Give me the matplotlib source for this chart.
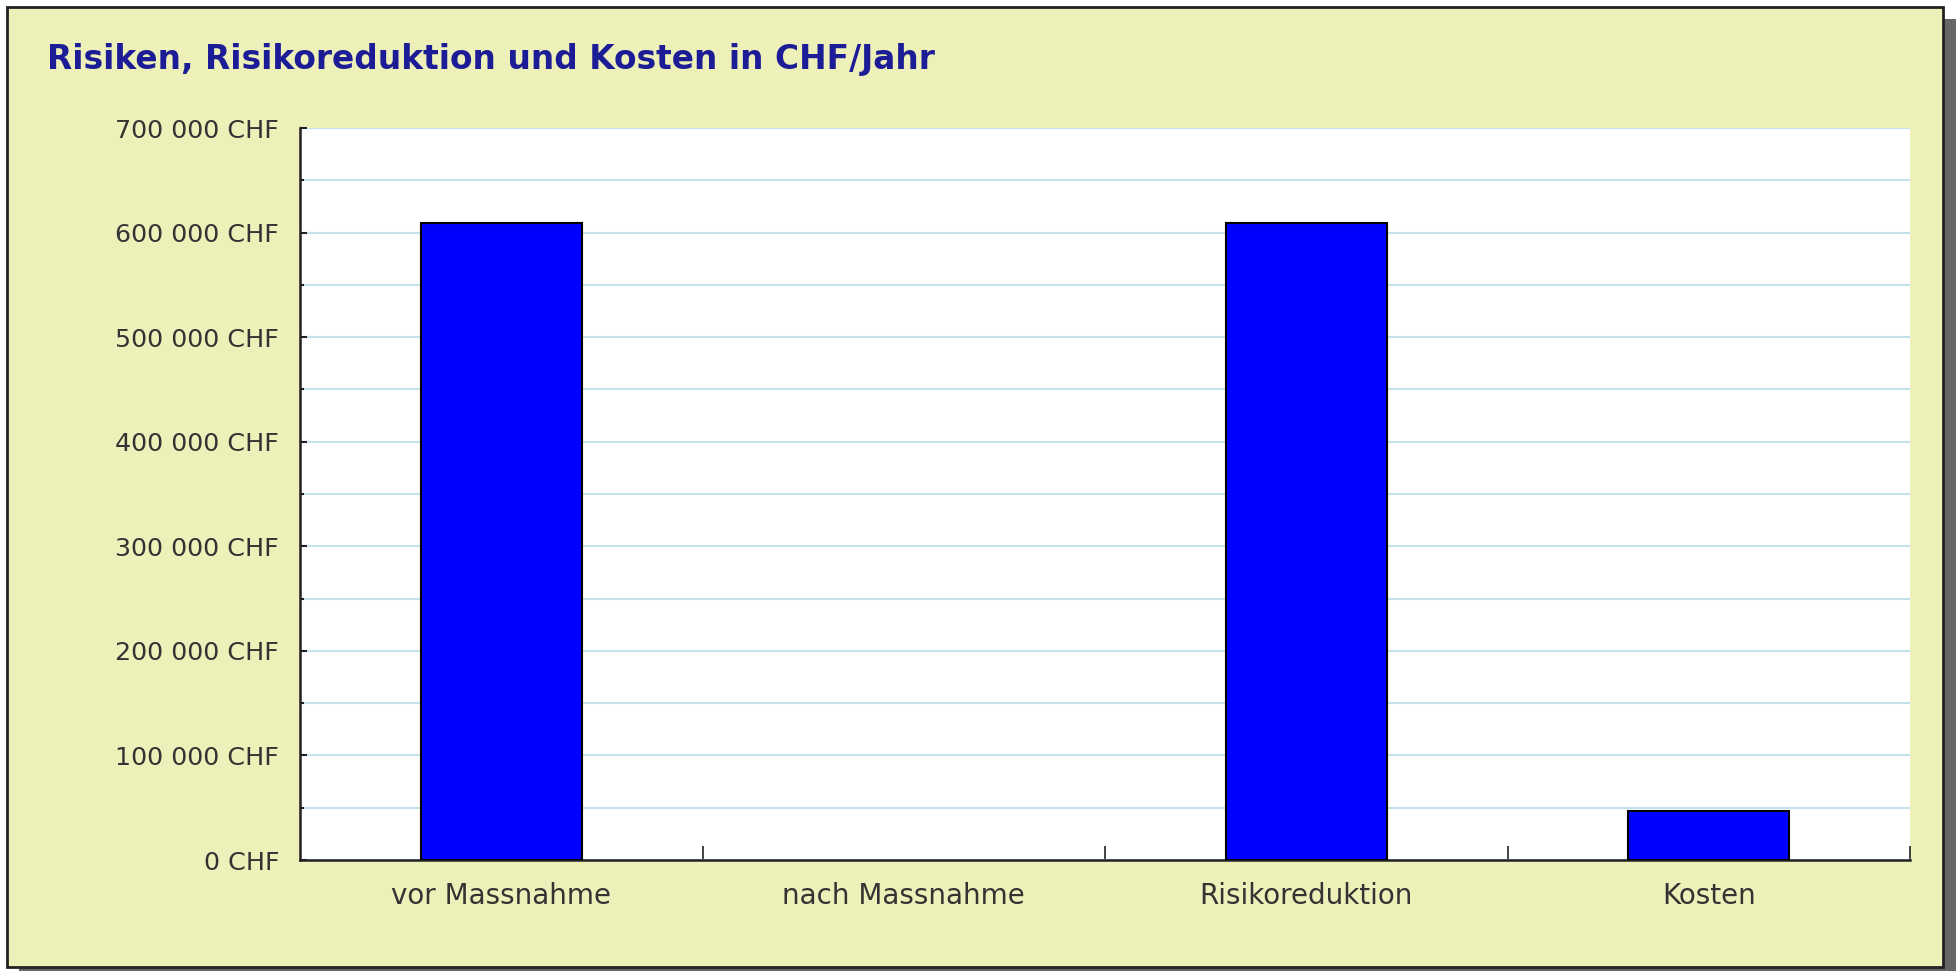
import matplotlib.pyplot as plt
import numpy as np
from matplotlib.patches import Rectangle
from matplotlib.ticker import MultipleLocator, FuncFormatter

categories = ["vor Massnahme", "nach Massnahme", "Risikoreduktion", "Kosten"]
values = [609000, 0, 609000, 47000]

bg = '#EDF0B9'
bar_color = '#0000FF'
grid_color = '#C4E2EC'
text_color = '#333333'
title_color = '#1C1C96'

plt.rcParams['font.family'] = 'DejaVu Sans'

fig = plt.figure(figsize=(19.59, 9.71), dpi=100)
fig.patch.set_facecolor('white')

# shadow + frame of the chart panel
W, H = 1959.0, 971.0
fig.patches.append(Rectangle((19 / W, -10 / H), 1937 / W, 962 / H, transform=fig.transFigure,
                             facecolor='#666666', edgecolor='none', zorder=-2))
fig.patches.append(Rectangle((7 / W, 4 / H), 1936 / W, 960 / H, transform=fig.transFigure,
                             facecolor=bg, edgecolor='#222222', linewidth=2, zorder=-1))

ax = fig.add_axes([300 / W, 111 / H, 1610 / W, 732 / H])
ax.set_zorder(2)
ax.set_facecolor('white')

x = np.arange(len(categories))
ax.bar(x, values, width=0.4, color=bar_color, edgecolor='black',
       linewidth=[1.5 if v > 0 else 0 for v in values], zorder=3)

ax.set_xlim(-0.5, len(categories) - 0.5)
ax.set_ylim(0, 700000)

ax.yaxis.set_major_locator(MultipleLocator(100000))
ax.yaxis.set_minor_locator(MultipleLocator(50000))
ax.yaxis.set_major_formatter(FuncFormatter(lambda v, p: f"{int(v):,}".replace(",", " ") + " CHF"))
ax.grid(True, which='both', axis='y', color=grid_color, linewidth=1.5, zorder=1)

# ticks at category boundaries, labels at centres
ax.set_xticks(np.append(x[1:] - 0.5, len(categories) - 0.5))
ax.set_xticklabels([])
ax.set_xticks(x, minor=True)
ax.set_xticklabels(categories, minor=True)

ax.tick_params(axis='x', which='major', direction='in', length=10, width=1.2, color='#222222')
ax.tick_params(axis='x', which='minor', length=0, pad=16, labelsize=20, labelcolor=text_color)
ax.tick_params(axis='y', which='major', direction='in', length=5, width=1.5, color='#222222',
               pad=15, labelsize=18.3, labelcolor=text_color)
ax.tick_params(axis='y', which='minor', direction='in', length=3, width=1.5, color='#222222')

for s in ['top', 'right']:
    ax.spines[s].set_visible(False)
for s in ['left', 'bottom']:
    ax.spines[s].set_color('#222222')
    ax.spines[s].set_linewidth(1.8)

fig.text(47 / W, 1 - 59 / H, "Risiken, Risikoreduktion und Kosten in CHF/Jahr",
         fontsize=23.7, fontweight='bold', color=title_color, ha='left', va='center')

fig.savefig("out.png", dpi=100)
